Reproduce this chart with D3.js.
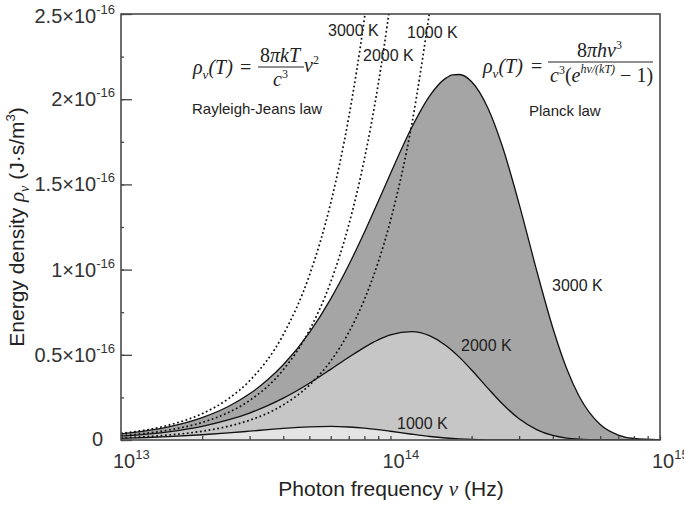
<!DOCTYPE html>
<html>
<head>
<meta charset="utf-8">
<script src="https://cdn.jsdelivr.net/npm/d3@7"></script>
<style>
  body { margin: 0; background: #fff; }
  svg { display: block; font-family: "Liberation Sans", Arial, sans-serif; }
</style>
</head>
<body>
<div id="chart"></div>
<script>
// frequency in units of 1e13 Hz, energy density in units of 1e-16 J·s/m³
const freq = [1, 1.25, 1.5, 2, 2.5, 3, 3.5, 4, 5, 6, 7, 8, 9, 10, 12, 14, 16, 17, 18, 20,
  23, 26, 30, 35, 40, 45, 50, 60, 70, 80, 100];
const planck3000 = [0.0356, 0.0545, 0.0769, 0.1312, 0.1964, 0.2709, 0.3531, 0.4413, 0.6306, 0.8286,
  1.0270, 1.2191, 1.3995, 1.5641, 1.8356, 2.0216, 2.1221, 2.1426, 2.1450, 2.1025,
  1.9472, 1.7237, 1.3860, 0.9846, 0.6591, 0.4214, 0.2597, 0.0906, 0.0291, 0.0088, 0.0007];
const planck2000 = [0.0228, 0.0345, 0.0482, 0.0803, 0.1175, 0.1583, 0.2014, 0.2455, 0.3331, 0.4147,
  0.4858, 0.5439, 0.5877, 0.6170, 0.6356, 0.6108, 0.5565, 0.5227, 0.4863, 0.4107,
  0.3028, 0.2125, 0.1249, 0.0597, 0.0268, 0.0115, 0.0048, 0.0007, 0.0001, 0, 0];
const planck1000 = [0.0100, 0.0147, 0.0198, 0.0307, 0.0416, 0.0518, 0.0607, 0.0680, 0.0771, 0.0794,
  0.0763, 0.0696, 0.0608, 0.0513, 0.0338, 0.0205, 0.0117, 0.0087, 0.0064, 0.0034,
  0.0012, 0.0004, 0.0001, 0, 0, 0, 0, 0, 0, 0, 0];

// Rayleigh-Jeans curves (dotted)
const rjFreq = [1, 1.5, 2, 2.5, 3, 4, 5, 6, 7, 8, 9, 10, 12, 14];
const rj3000 = [0.0386, 0.0869, 0.1545, 0.2415, 0.3477, 0.6182, 0.9659, 1.3909, 1.8932, 2.4728, 3.1296, 3.8637, 5.5637, 7.5729];
const rj2000 = [0.0258, 0.0580, 0.1030, 0.1610, 0.2318, 0.4121, 0.6440, 0.9273, 1.2621, 1.6485, 2.0864, 2.5758, 3.7092, 5.0486];
const rj1000 = [0.0129, 0.0290, 0.0515, 0.0805, 0.1159, 0.2061, 0.3220, 0.4636, 0.6311, 0.8243, 1.0432, 1.2879, 1.8546, 2.5243];

const xTickExponents = [13, 14, 15];
const yTickLabels = ["0.5", "1", "1.5", "2", "2.5"];

const width = 684, height = 505;
const margin = { top: 14, right: 24, bottom: 65, left: 121 };

const svg = d3.select("#chart")
  .append("svg")
  .attr("width", width)
  .attr("height", height);

const x = d3.scaleLog()
  .domain([1e13, 1e15])
  .range([margin.left, width - margin.right]);

const y = d3.scaleLinear()
  .domain([0, 2.5e-16])
  .range([height - margin.bottom, margin.top]);

svg.append("clipPath").attr("id", "plot-clip")
  .append("rect")
  .attr("x", margin.left).attr("y", margin.top)
  .attr("width", width - margin.left - margin.right)
  .attr("height", height - margin.top - margin.bottom);

const toPts = (fs, vs) => fs.map((f, i) => [f * 1e13, vs[i] * 1e-16]);

const area = d3.area()
  .x(d => x(d[0]))
  .y0(y(0))
  .y1(d => y(d[1]))
  .curve(d3.curveMonotoneX);

const line = d3.line()
  .x(d => x(d[0]))
  .y(d => y(d[1]))
  .curve(d3.curveMonotoneX);

const plot = svg.append("g").attr("clip-path", "url(#plot-clip)");

// filled Planck curves, hottest first
const planck = [
  { vals: planck3000, fill: "#a5a5a5" },
  { vals: planck2000, fill: "#c6c6c6" },
  { vals: planck1000, fill: "#e4e4e4" }
];
planck.forEach(p => {
  plot.append("path")
    .datum(toPts(freq, p.vals))
    .attr("d", area)
    .attr("fill", p.fill);
});
planck.forEach(p => {
  plot.append("path")
    .datum(toPts(freq, p.vals))
    .attr("d", line)
    .attr("fill", "none")
    .attr("stroke", "#111")
    .attr("stroke-width", 1.3);
});

// dotted Rayleigh-Jeans curves
[rj3000, rj2000, rj1000].forEach(vals => {
  plot.append("path")
    .datum(toPts(rjFreq, vals))
    .attr("d", line)
    .attr("fill", "none")
    .attr("stroke", "#111")
    .attr("stroke-width", 1.7)
    .attr("stroke-dasharray", "1.8 2.6");
});

// axes (ticks pointing inward)
const yMajor = d3.range(0, 6).map(i => i * 0.5e-16);
const yMinor = d3.range(0, 11).map(i => i * 0.25e-16);
const xMinor = [];
[1e13, 1e14].forEach(dec => d3.range(1, 10).forEach(k => xMinor.push(k * dec)));
xMinor.push(1e15);

svg.append("g")
  .attr("transform", `translate(${margin.left},0)`)
  .call(d3.axisRight(y).tickValues(yMinor).tickSize(3).tickSizeOuter(0).tickFormat(""));
svg.append("g")
  .attr("transform", `translate(${margin.left},0)`)
  .call(d3.axisRight(y).tickValues(yMajor).tickSize(11).tickSizeOuter(0).tickFormat(""));
svg.append("g")
  .attr("transform", `translate(0,${height - margin.bottom})`)
  .call(d3.axisTop(x).tickValues(xMinor).tickSize(4).tickSizeOuter(0).tickFormat(""));

svg.selectAll(".domain").remove();
svg.selectAll(".tick line").attr("stroke", "#444").attr("stroke-width", 1.3);

// frame
svg.append("rect")
  .attr("x", margin.left).attr("y", margin.top)
  .attr("width", width - margin.left - margin.right)
  .attr("height", height - margin.top - margin.bottom)
  .attr("fill", "none")
  .attr("stroke", "#4a4a4a")
  .attr("stroke-width", 1.6);

// y tick labels
const yl = svg.append("g").attr("fill", "#333").attr("font-size", 20);
yl.append("text")
  .attr("x", 103).attr("y", y(0) + 6)
  .attr("text-anchor", "end")
  .text("0");
yTickLabels.forEach(lbl => {
  const t = yl.append("text")
    .attr("x", 115).attr("y", y(+lbl * 1e-16) + 7)
    .attr("text-anchor", "end");
  t.append("tspan").text(lbl + "×10");
  t.append("tspan").attr("dy", -9).attr("font-size", 13).text("-16");
});
// top label sits on the top edge
yl.selectAll("text").filter(function () { return this.textContent.startsWith("2.5"); })
  .attr("y", margin.top + 9);

// x tick labels
const xl = svg.append("g").attr("fill", "#333").attr("font-size", 20);
xTickExponents.forEach(e => {
  const t = xl.append("text")
    .attr("x", x(Math.pow(10, e)) - 8)
    .attr("y", 468);
  t.append("tspan").text("10");
  t.append("tspan").attr("dy", -9).attr("font-size", 13).text(e);
});

// axis titles
const xt = svg.append("text")
  .attr("x", 391).attr("y", 496)
  .attr("text-anchor", "middle")
  .attr("font-size", 21)
  .attr("fill", "#222");
xt.append("tspan").text("Photon frequency  ");
xt.append("tspan").attr("font-family", "Liberation Serif").attr("font-style", "italic").text("ν");
xt.append("tspan").text("  (Hz)");

const yt = svg.append("text")
  .attr("transform", `translate(24,${(margin.top + height - margin.bottom) / 2}) rotate(-90)`)
  .attr("text-anchor", "middle")
  .attr("font-size", 21)
  .attr("fill", "#222");
yt.append("tspan").text("Energy density ");
yt.append("tspan").attr("font-family", "Liberation Serif").attr("font-style", "italic").text("ρ");
yt.append("tspan").attr("font-family", "Liberation Serif").attr("font-style", "italic")
  .attr("font-size", 14).attr("dy", 5).text("ν");
yt.append("tspan").attr("dy", -5).text(" (J·s/m");
yt.append("tspan").attr("font-size", 13).attr("dy", -9).text("3");
yt.append("tspan").attr("dy", 9).text(")");

// curve labels
const lab = svg.append("g").attr("font-size", 16).attr("fill", "#222");
[[552, 291, "3000 K"], [461, 351, "2000 K"], [397, 429, "1000 K"],
 [328, 36, "3000 K"], [363, 61, "2000 K"], [407, 38, "1000 K"]]
  .forEach(([lx, ly, s]) => lab.append("text").attr("x", lx).attr("y", ly).text(s));

svg.append("text").attr("x", 192).attr("y", 114).attr("font-size", 15).attr("fill", "#222")
  .text("Rayleigh-Jeans law");
svg.append("text").attr("x", 529).attr("y", 116).attr("font-size", 15).attr("fill", "#222")
  .text("Planck law");

// formulas
const f = svg.append("g")
  .attr("font-family", "Liberation Serif, Times New Roman, serif")
  .attr("font-size", 20)
  .attr("fill", "#222");

function rhoT(g, x0, base) {
  const t = g.append("text").attr("x", x0).attr("y", base).attr("font-style", "italic");
  t.append("tspan").text("ρ");
  t.append("tspan").attr("font-size", 13).attr("dy", 5).text("ν");
  t.append("tspan").attr("dy", -5).text("(T)");
  return t;
}

// Rayleigh-Jeans formula
rhoT(f, 193, 74);
f.append("text").attr("x", 240).attr("y", 74).text("=");
const n1 = f.append("text").attr("x", 260).attr("y", 62).attr("font-style", "italic");
n1.append("tspan").attr("font-style", "normal").text("8");
n1.append("tspan").text("πkT");
f.append("line").attr("x1", 258).attr("x2", 304).attr("y1", 67).attr("y2", 67)
  .attr("stroke", "#222").attr("stroke-width", 1);
const d1 = f.append("text").attr("x", 273).attr("y", 86).attr("font-style", "italic");
d1.append("tspan").text("c");
d1.append("tspan").attr("font-style", "normal").attr("font-size", 12).attr("dy", -8).text("3");
const v1 = f.append("text").attr("x", 304).attr("y", 72).attr("font-style", "italic");
v1.append("tspan").text("ν");
v1.append("tspan").attr("font-style", "normal").attr("font-size", 12).attr("dy", -8).text("2");

// Planck formula
rhoT(f, 483, 73);
f.append("text").attr("x", 531).attr("y", 73).text("=");
const n2 = f.append("text").attr("x", 577).attr("y", 57).attr("font-style", "italic");
n2.append("tspan").attr("font-style", "normal").text("8");
n2.append("tspan").text("πhν");
n2.append("tspan").attr("font-style", "normal").attr("font-size", 12).attr("dy", -8).text("3");
f.append("line").attr("x1", 548).attr("x2", 653).attr("y1", 62).attr("y2", 62)
  .attr("stroke", "#222").attr("stroke-width", 1);
const d2 = f.append("text").attr("x", 550).attr("y", 82);
d2.append("tspan").attr("font-style", "italic").text("c");
d2.append("tspan").attr("font-size", 12).attr("dy", -8).text("3");
d2.append("tspan").attr("dy", 8).text("(");
d2.append("tspan").attr("font-style", "italic").text("e");
d2.append("tspan").attr("font-style", "italic").attr("font-size", 12).attr("dy", -9).text("hν/(kT)");
d2.append("tspan").attr("dy", 9).text(" − 1)");
</script>
</body>
</html>
